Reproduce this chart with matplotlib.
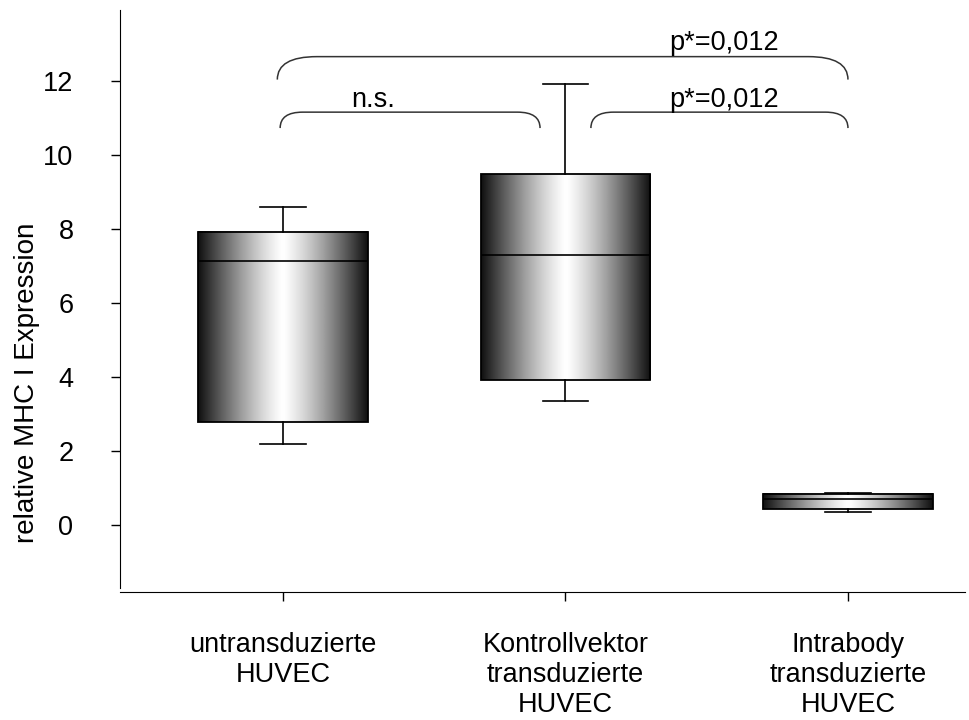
import numpy as np
import matplotlib
matplotlib.use('Agg')
from matplotlib import pyplot as plt
from matplotlib.path import Path
from matplotlib.patches import PathPatch

plt.rcParams['font.family'] = ['Liberation Sans', 'DejaVu Sans']

# Daten
groups = ['untransduzierte\nHUVEC',
          'Kontrollvektor\ntransduzierte\nHUVEC',
          'Intrabody\ntransduzierte\nHUVEC']
whislo = [2.18, 3.34, 0.34]
q1 = [2.78, 3.91, 0.43]
med = [7.13, 7.29, 0.70]
q3 = [7.92, 9.47, 0.84]
whishi = [8.60, 11.91, 0.86]

# Signifikanz-Klammern: (Gruppe links, Gruppe rechts, Höhe, Text)
brackets = [(1, 3, 12.65, 'p*=0,012'),
            (1, 2, 11.15, 'n.s.'),
            (2, 3, 11.15, 'p*=0,012')]

positions = np.arange(1, len(groups) + 1)
box_w = 0.6
fs = 19.5

fig = plt.figure(figsize=(9.69, 7.2), dpi=100)
ax = fig.add_axes([0.1238, 0.1833, 0.872, 0.8028])

stats = []
for i in range(len(groups)):
    stats.append(dict(whislo=whislo[i], q1=q1[i], med=med[i], q3=q3[i],
                      whishi=whishi[i], fliers=[]))

bp = ax.bxp(stats, positions=positions, widths=box_w, patch_artist=True,
            showfliers=False, capwidths=0.16,
            boxprops=dict(facecolor='none', edgecolor='black', linewidth=1.3),
            medianprops=dict(color='black', linewidth=1.2),
            whiskerprops=dict(color='black', linewidth=1.2),
            capprops=dict(color='black', linewidth=1.2))

# Zylinder-Verlauf in den Boxen
t = np.linspace(0, 1, 256)
shade = 0.06 + 0.94 * (1 - np.abs(2 * t - 1) ** 1.25)
grad = np.tile(shade, (2, 1))
for i, p in enumerate(positions):
    ax.imshow(grad, cmap='gray', vmin=0, vmax=1, aspect='auto',
              extent=(p - box_w / 2, p + box_w / 2, q1[i], q3[i]),
              interpolation='bicubic', zorder=1.5)

# Klammern
def bracket(x1, x2, y, text, tx, low):
    if low:
        dx, drop, lab_y = 0.08, 0.43, y + 0.14
    else:
        dx, drop, lab_y = 0.14, 0.62, y + 0.18
    verts = [(x1, y - drop), (x1, y), (x1 + dx, y),
             (x2 - dx, y), (x2, y), (x2, y - drop)]
    codes = [Path.MOVETO, Path.CURVE3, Path.CURVE3,
             Path.LINETO, Path.CURVE3, Path.CURVE3]
    ax.add_patch(PathPatch(Path(verts, codes), fill=False,
                           edgecolor='#333333', linewidth=1.1))
    ax.text(tx, lab_y, text, ha='center', va='baseline', fontsize=fs)

for a, b, h, txt in brackets:
    if b - a == 2:
        x1, x2, tx, lo = a - 0.02, b, 2.56, False
    elif a == 1:
        x1, x2, tx, lo = a - 0.01, b - 0.09, 1.32, True
    else:
        x1, x2, tx, lo = a + 0.09, b, 2.56, True
    bracket(x1, x2, h, txt, tx, lo)

ax.set_xlim(0.423, 3.414)
ax.set_ylim(-1.71, 13.91)
ax.set_yticks(np.arange(0, 13, 2))
ax.set_xticks(positions)
ax.set_xticklabels(groups)
for lab in ax.get_xticklabels():
    lab.set_linespacing(1.34)
ax.tick_params(axis='y', labelsize=fs, length=6.5, width=1, pad=27)
ax.tick_params(axis='x', labelsize=fs, length=6.5, width=1, pad=22)

for s in ['top', 'right']:
    ax.spines[s].set_visible(False)
ax.spines['bottom'].set_position(('outward', 3))

ax.set_ylabel('relative MHC I Expression', fontsize=20)
ax.yaxis.set_label_coords(-0.095, 0.355)

fig.savefig('out.png', dpi=100)
